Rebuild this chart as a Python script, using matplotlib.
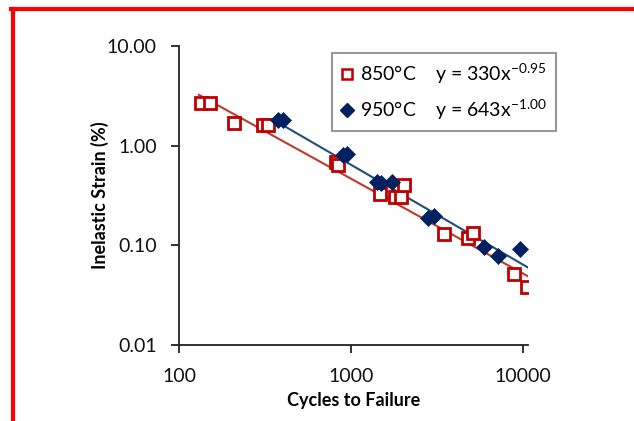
import matplotlib
matplotlib.use("Agg")
import matplotlib.pyplot as plt
import numpy as np
from matplotlib.lines import Line2D
from matplotlib.ticker import FixedLocator, FuncFormatter, NullLocator

plt.rcParams['font.family'] = ['Lato', 'DejaVu Sans']
plt.rcParams['mathtext.fontset'] = 'custom'
plt.rcParams['mathtext.rm'] = 'Lato'
plt.rcParams['mathtext.it'] = 'Lato:italic'
plt.rcParams['mathtext.bf'] = 'Lato:bold'

# ---- data ----
cycles_850 = [133, 150, 207, 309, 330, 822, 845, 1466, 1793, 1944, 2024, 3460, 4778, 5108, 8866, 10550]
strain_850 = [2.68, 2.68, 1.69, 1.61, 1.61, 0.687, 0.64, 0.328, 0.306, 0.306, 0.403, 0.130, 0.119, 0.133, 0.0516, 0.0383]

cycles_950 = [378, 404, 904, 954, 1409, 1487, 1722, 2793, 3028, 5923, 7150, 9610]
strain_950 = [1.81, 1.81, 0.807, 0.826, 0.433, 0.42, 0.433, 0.188, 0.197, 0.0964, 0.0783, 0.092]

fit_850 = (330, -0.95)
fit_950 = (643, -1.00)
fit_range_850 = (130, 10700)
fit_range_950 = (350, 10800)

labels = ["850°C", "950°C"]
x_ticks = [100, 1000, 10000]
y_ticks = [0.01, 0.1, 1, 10]
x_label = "Cycles to Failure"
y_label = "Inelastic Strain (%)"

red = '#C00000'
red_line = '#C0392B'
blue = '#002060'
blue_line = '#1F4E79'

W, H = 634, 421
fig = plt.figure(figsize=(W / 100, H / 100), dpi=100)
ax = fig.add_axes([179.3 / W, 1 - 345 / H, (528.3 - 179.3) / W, (345 - 46) / H])

ax.set_xscale('log')
ax.set_yscale('log')
ax.set_xlim(100, 10780)
ax.set_ylim(0.01, 10)

# trend lines
xs = np.geomspace(*fit_range_850, 50)
ax.plot(xs, fit_850[0] * xs ** fit_850[1], color=red_line, lw=1.5, zorder=2)
xs = np.geomspace(*fit_range_950, 50)
ax.plot(xs, fit_950[0] * xs ** fit_950[1], color=blue_line, lw=1.5, zorder=2)

ax.plot(cycles_850, strain_850, 's', ms=8, mfc='white', mec=red, mew=2, zorder=3)
ax.plot(cycles_950, strain_950, 'D', ms=8, mfc=blue, mec=blue, mew=0.5, zorder=4)

for s in ['top', 'right']:
    ax.spines[s].set_visible(False)
for s in ['left', 'bottom']:
    ax.spines[s].set_color('#222222')
    ax.spines[s].set_linewidth(1.3)

ax.xaxis.set_major_locator(FixedLocator(x_ticks))
ax.xaxis.set_minor_locator(NullLocator())
ax.yaxis.set_major_locator(FixedLocator(y_ticks))
ax.yaxis.set_minor_locator(NullLocator())
ax.xaxis.set_major_formatter(FuncFormatter(lambda v, p: f"{v:.0f}"))
ax.yaxis.set_major_formatter(FuncFormatter(lambda v, p: f"{v:.2f}"))
ax.tick_params(axis='both', which='major', length=5.8, width=1.3, color='#222222',
               labelsize=14, labelcolor='#111111', direction='out')
ax.tick_params(axis='y', pad=10.5)
ax.tick_params(axis='x', pad=10.5)

ax.set_xlabel(x_label, fontsize=13, fontweight='bold', labelpad=5.5)
ax.set_ylabel(y_label, fontsize=13, fontweight='bold', labelpad=-2)

# legend
h1 = Line2D([], [], ls='none', marker='s', ms=7.5, mfc='white', mec=red, mew=1.8)
h2 = Line2D([], [], ls='none', marker='D', ms=7.5, mfc=blue, mec=blue)
lab1 = f"{labels[0]}    y = {fit_850[0]}x$^{{{fit_850[1]:.2f}}}$"
lab2 = f"{labels[1]}    y = {fit_950[0]}x$^{{{fit_950[1]:.2f}}}$"
leg = ax.legend([h1, h2], [lab1, lab2], loc='upper left',
                bbox_to_anchor=(332 / W, 1 - 53 / H), bbox_transform=fig.transFigure,
                borderaxespad=0, fontsize=14, frameon=True, fancybox=False,
                handlelength=0.6, handletextpad=0.4, borderpad=0.45, labelspacing=0.6,
                edgecolor='#7f7f7f')
leg.get_frame().set_linewidth(1.5)

# red border
fig.add_artist(Line2D([11 / W, 1], [1 - 9 / H, 1 - 9 / H], color='#FF0000', lw=3, transform=fig.transFigure))
fig.add_artist(Line2D([13 / W, 13 / W], [1 - 9 / H, 0], color='#FF0000', lw=3, transform=fig.transFigure))

fig.savefig('out.png', dpi=100, facecolor='white')
